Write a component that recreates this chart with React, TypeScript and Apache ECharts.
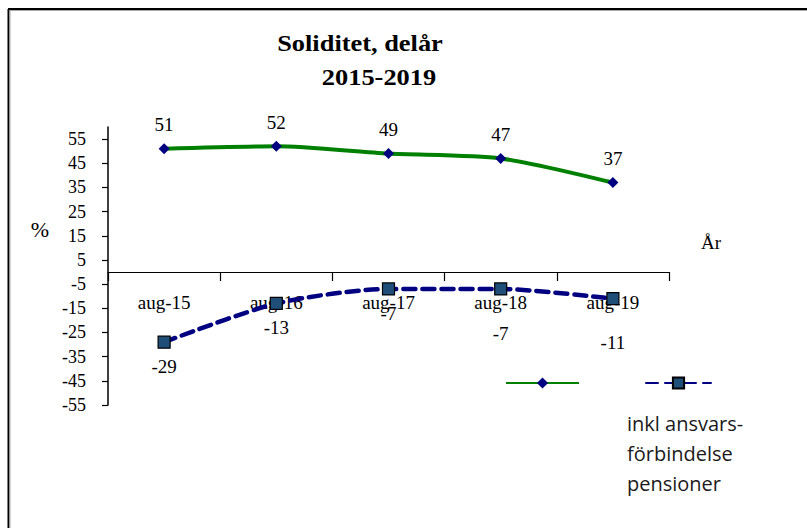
import React, { useEffect, useRef } from "react";
import * as echarts from "echarts";

const categories = ["aug-15", "aug-16", "aug-17", "aug-18", "aug-19"];
const soliditet = [51, 52, 49, 47, 37];
const inklPension = [-29, -13, -7, -7, -11];
const yTickValues = [55, 45, 35, 25, 15, 5, -5, -15, -25, -35, -45, -55];
const seriesNames = ["Soliditet", "inkl ansvars-\nförbindelse\npensioner"];
const titleLines = ["Soliditet, delår", "2015-2019"];

export default function App() {
  const ref = useRef<HTMLDivElement>(null);
  useEffect(() => {
    const chart = echarts.init(ref.current!, null, { renderer: "svg" });
    const serif = "'Liberation Serif', 'Times New Roman', serif";
    chart.setOption({
      animation: false,
      backgroundColor: "#ffffff",
      grid: { left: 108, right: 138, top: 127, bottom: 123, containLabel: false },
      xAxis: {
        type: "category",
        data: categories,
        boundaryGap: true,
        axisLine: { onZero: true, lineStyle: { color: "#000", width: 1.2 } },
        axisTick: { show: true, length: 9, lineStyle: { color: "#000", width: 1.2 } },
        axisLabel: { margin: -112, color: "#000", fontFamily: serif, fontSize: 19 },
        splitLine: { show: false },
      },
      yAxis: {
        type: "value",
        min: -55,
        max: 60,
        axisLine: { show: true, lineStyle: { color: "#000", width: 1.5 } },
        axisTick: {
          show: true,
          length: 6,
          customValues: yTickValues,
          lineStyle: { color: "#000", width: 1.2 },
        },
        axisLabel: {
          customValues: yTickValues,
          margin: 22,
          color: "#000",
          fontFamily: serif,
          fontSize: 18,
        },
        splitLine: { show: false },
      },
      legend: [
        {
          data: [seriesNames[0]],
          left: 505,
          top: 376,
          itemWidth: 73,
          itemHeight: 14,
          padding: 0,
          selectedMode: false,
          formatter: () => "",
        },
        {
          data: [seriesNames[1]],
          left: 645,
          top: 376,
          itemWidth: 65,
          itemHeight: 14,
          padding: 0,
          selectedMode: false,
          formatter: () => "",
        },
      ],
      series: [
        {
          name: seriesNames[0],
          type: "line",
          data: soliditet,
          smooth: 0.25,
          lineStyle: { color: "#008000", width: 4 },
          itemStyle: { color: "#000080" },
          symbol: "diamond",
          symbolSize: 11,
          label: {
            show: true,
            position: "top",
            distance: 9,
            color: "#000",
            fontFamily: serif,
            fontSize: 19,
          },
        },
        {
          name: seriesNames[1],
          type: "line",
          data: inklPension.map((v, i) => ({ value: v, label: { distance: i >= 3 ? 28 : 8 } })),
          smooth: 0.25,
          lineStyle: { color: "#000080", width: 4.5, type: [12, 7], cap: "round" },
          itemStyle: { color: "#1F4E79", borderColor: "#000", borderWidth: 1.2 },
          symbol: "rect",
          symbolSize: 12,
          label: {
            show: true,
            position: "bottom",
            color: "#000",
            fontFamily: serif,
            fontSize: 19,
          },
        },
      ],
      graphic: [
        { type: "line", shape: { x1: 8.5, y1: 9, x2: 8.5, y2: 600 }, style: { stroke: "#000", lineWidth: 2 } },
        { type: "line", shape: { x1: 8, y1: 9, x2: 900, y2: 9 }, style: { stroke: "#000", lineWidth: 2 } },
        { type: "line", shape: { x1: 10, y1: 10.5, x2: 10, y2: 600 }, style: { stroke: "#aaa", lineWidth: 1 } },
        { type: "line", shape: { x1: 10, y1: 10.5, x2: 900, y2: 10.5 }, style: { stroke: "#aaa", lineWidth: 1 } },
        {
          type: "text",
          x: 360,
          y: 43,
          scaleX: 1.1,
          style: {
            text: titleLines[0],
            font: "bold 24px 'Liberation Serif', serif",
            fill: "#000",
            textAlign: "center",
            textVerticalAlign: "middle",
          },
        },
        {
          type: "text",
          x: 379,
          y: 77,
          scaleX: 1.1,
          style: {
            text: titleLines[1],
            font: "bold 24px 'Liberation Serif', serif",
            fill: "#000",
            textAlign: "center",
            textVerticalAlign: "middle",
          },
        },
        {
          type: "text",
          x: 40,
          y: 229,
          style: {
            text: "%",
            font: "22px 'Liberation Serif', serif",
            fill: "#000",
            textAlign: "center",
            textVerticalAlign: "middle",
          },
        },
        {
          type: "text",
          x: 711,
          y: 242,
          style: {
            text: "År",
            font: "19px 'Liberation Serif', serif",
            fill: "#000",
            textAlign: "center",
            textVerticalAlign: "middle",
          },
        },
        {
          type: "text",
          x: 627,
          y: 408,
          style: {
            text: seriesNames[1],
            font: "20px 'Open Sans', sans-serif",
            lineHeight: 30,
            fill: "#1a1a1a",
            textAlign: "left",
            textVerticalAlign: "top",
          },
        },
      ],
    });
    return () => chart.dispose();
  }, []);
  return <div ref={ref} style={{ position: "absolute", left: 0, top: 0, width: 807, height: 528 }} />;
}
